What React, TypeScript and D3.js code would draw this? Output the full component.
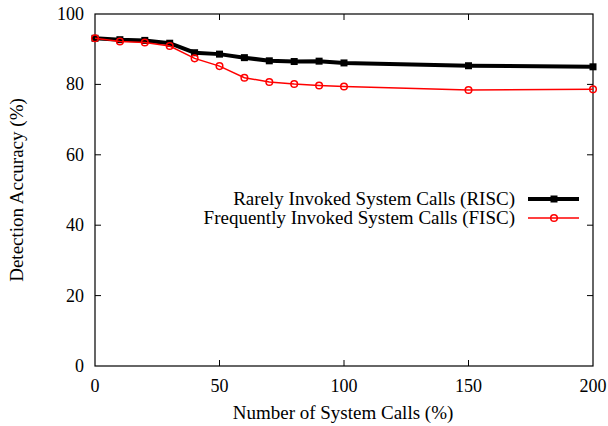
import * as d3 from "d3";

const xValues = [0, 10, 20, 30, 40, 50, 60, 70, 80, 90, 100, 150, 200];
const riscValues = [93.1, 92.7, 92.5, 91.7, 89.0, 88.6, 87.6, 86.7, 86.5, 86.6, 86.1, 85.3, 85.0];
const fiscValues = [93.1, 92.2, 91.9, 90.9, 87.4, 85.2, 81.9, 80.7, 80.1, 79.7, 79.4, 78.4, 78.6];
const xTicks = [0, 50, 100, 150, 200];
const yTicks = [0, 20, 40, 60, 80, 100];
const seriesNames = ["Rarely Invoked System Calls (RISC)", "Frequently Invoked System Calls (FISC)"];

const W = 608;
const H = 426;
const margin = { top: 14, right: 15, bottom: 60, left: 95 };
const font = '"Liberation Serif", "DejaVu Serif", serif';

export default function App() {
  const x = d3.scaleLinear().domain([0, 200]).range([margin.left, W - margin.right]);
  const y = d3.scaleLinear().domain([0, 100]).range([H - margin.bottom, margin.top]);
  const line = d3
    .line<number>()
    .x((_, i) => x(xValues[i]))
    .y(d => y(d));

  const tick = 6;
  const legendX = 515;
  const legendY = [199, 218];

  return (
    <svg width={W} height={H} style={{ position: "absolute", left: 0, top: 0 }}>
      <rect x={0} y={0} width={W} height={H} fill="#fff" />
      <g style={{ fontFamily: font }} fontSize={19}>
        {yTicks.map(t => (
          <text key={"yl" + t} x={x(0) - 11} y={y(t) + 6} textAnchor="end" fontSize={18}>
            {t}
          </text>
        ))}
        {xTicks.map(t => (
          <text key={"xl" + t} x={x(t)} y={y(0) + 26} textAnchor="middle" fontSize={18}>
            {t}
          </text>
        ))}
        <text x={343} y={419} textAnchor="middle">
          Number of System Calls (%)
        </text>
        <text transform={`translate(23,${(y(0) + y(100)) / 2}) rotate(-90)`} textAnchor="middle">
          Detection Accuracy (%)
        </text>
        {seriesNames.map((name, i) => (
          <text key={name} x={legendX} y={legendY[i] + 5.5} textAnchor="end">
            {name}
          </text>
        ))}
      </g>
      {/* frame */}
      <rect
        x={x(0)}
        y={y(100)}
        width={x(200) - x(0)}
        height={y(0) - y(100)}
        fill="none"
        stroke="#000"
        strokeWidth={1.2}
      />
      {yTicks.filter(t => t > 0 && t < 100).map(t => (
        <g key={"y" + t}>
          <line x1={x(0)} x2={x(0) + tick} y1={y(t)} y2={y(t)} stroke="#000" />
          <line x1={x(200)} x2={x(200) - tick} y1={y(t)} y2={y(t)} stroke="#000" />
        </g>
      ))}
      {xTicks.filter(t => t > 0 && t < 200).map(t => (
        <g key={"x" + t}>
          <line x1={x(t)} x2={x(t)} y1={y(0)} y2={y(0) - tick} stroke="#000" />
          <line x1={x(t)} x2={x(t)} y1={y(100)} y2={y(100) + tick} stroke="#000" />
        </g>
      ))}

      {/* RISC */}
      <path d={line(riscValues) ?? ""} fill="none" stroke="#000" strokeWidth={4} />
      {riscValues.map((v, i) => (
        <rect key={"r" + i} x={x(xValues[i]) - 3.5} y={y(v) - 3.5} width={7} height={7} fill="#000" />
      ))}
      {/* FISC */}
      <path d={line(fiscValues) ?? ""} fill="none" stroke="#ff0000" strokeWidth={1.5} />
      {fiscValues.map((v, i) => (
        <circle key={"f" + i} cx={x(xValues[i])} cy={y(v)} r={3.3} fill="none" stroke="#ff0000" strokeWidth={1.5} />
      ))}

      {/* legend samples */}
      <line x1={528} x2={579} y1={legendY[0]} y2={legendY[0]} stroke="#000" strokeWidth={4} />
      <rect x={554 - 3.5} y={legendY[0] - 3.5} width={7} height={7} fill="#000" />
      <line x1={528} x2={579} y1={legendY[1]} y2={legendY[1]} stroke="#ff0000" strokeWidth={1.5} />
      <circle cx={554} cy={legendY[1]} r={3.3} fill="none" stroke="#ff0000" strokeWidth={1.5} />
    </svg>
  );
}
